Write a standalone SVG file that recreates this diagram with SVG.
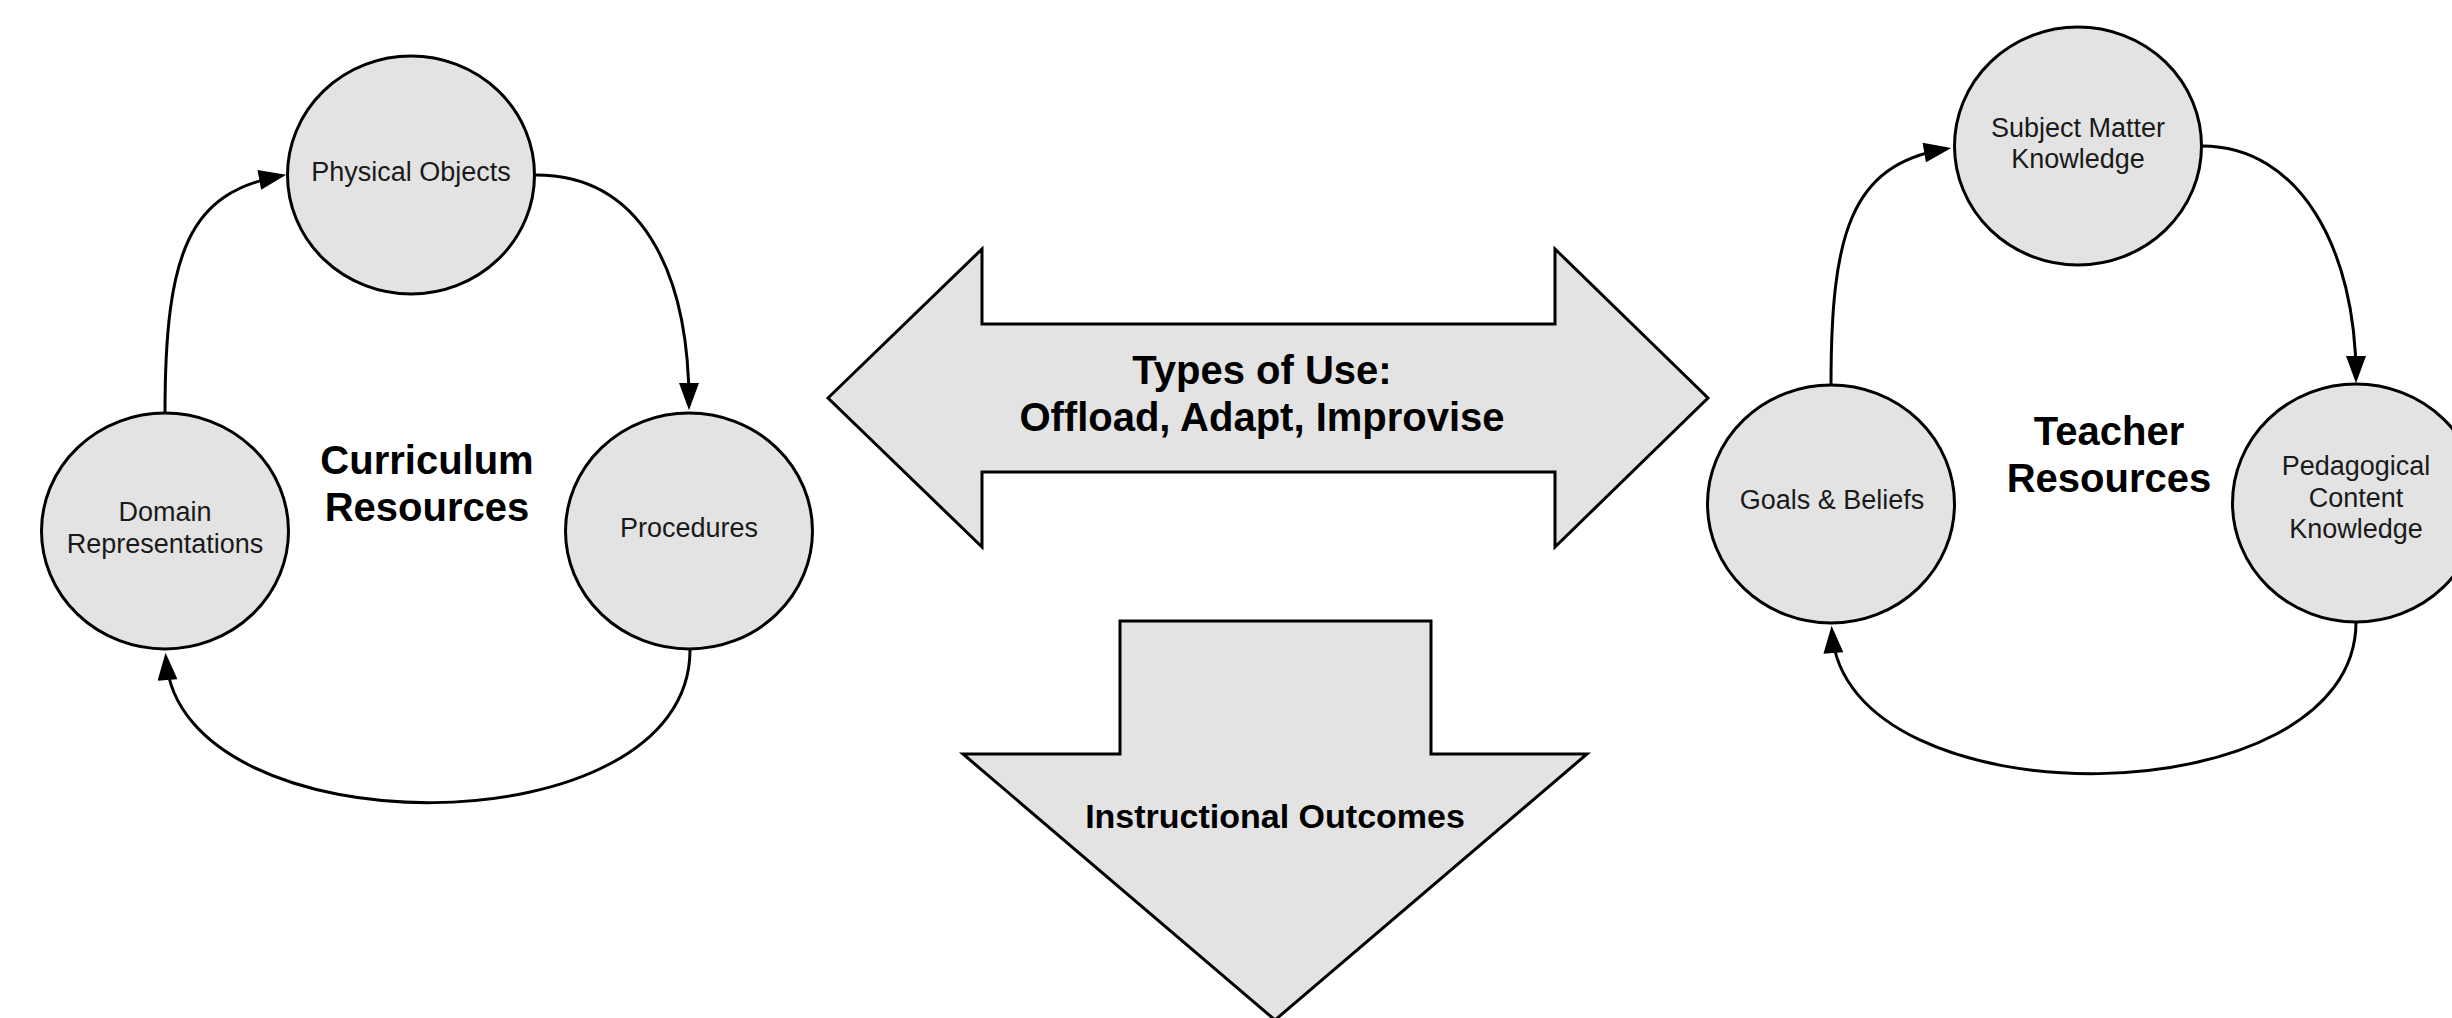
<svg xmlns="http://www.w3.org/2000/svg" width="2452" height="1018" viewBox="0 0 2452 1018">
<defs>
<style>
.node{fill:#e3e3e3;stroke:#000;stroke-width:3}
.shape{fill:#e3e3e3;stroke:#000;stroke-width:3;stroke-linejoin:miter}
.lbl{font-family:"Liberation Sans",Arial,sans-serif;font-size:27px;fill:#1a1a1a;text-anchor:middle}
.title{font-family:"Liberation Sans",Arial,sans-serif;font-size:40px;font-weight:bold;fill:#000;text-anchor:middle}
.big{font-family:"Liberation Sans",Arial,sans-serif;font-weight:bold;fill:#000;text-anchor:middle}
.conn{fill:none;stroke:#000;stroke-width:3}
</style>
<marker id="ah" markerUnits="userSpaceOnUse" markerWidth="28" markerHeight="20" viewBox="0 0 26 19" refX="20" refY="9.5" orient="auto">
<path d="M0,0 L26,9.5 L0,19 z" fill="#000"/>
</marker>
</defs>
<rect width="2452" height="1018" fill="#fff"/>

<g id="connectors">
<path class="conn" d="M165 413 C165 250 190 193 280 176" marker-end="url(#ah)"/>
<path class="conn" d="M536 175 C640 175 689 270 689 404" marker-end="url(#ah)"/>
<path class="conn" d="M690 650 C690 852 180 852 166 659" marker-end="url(#ah)"/>
<path class="conn" d="M1831 385 C1831 235 1850 165 1945 149" marker-end="url(#ah)"/>
<path class="conn" d="M2202 146 C2300 146 2356 250 2356 377" marker-end="url(#ah)"/>
<path class="conn" d="M2356 622 C2356 820 1845 825 1832 632" marker-end="url(#ah)"/>
</g>

<g id="node-physical-objects">
<ellipse class="node" cx="411" cy="175" rx="123.5" ry="119"/>
<text class="lbl" x="411" y="181">Physical Objects</text>
</g>
<g id="node-domain-representations">
<ellipse class="node" cx="165" cy="531" rx="123.5" ry="118"/>
<text class="lbl" x="165" y="521">Domain</text>
<text class="lbl" x="165" y="553">Representations</text>
</g>
<g id="node-procedures">
<ellipse class="node" cx="689" cy="531" rx="123.5" ry="118"/>
<text class="lbl" x="689" y="537">Procedures</text>
</g>
<g id="label-curriculum">
<text class="title" x="427" y="474">Curriculum</text>
<text class="title" x="427" y="521">Resources</text>
</g>

<g id="node-types-of-use">
<polygon class="shape" points="828,398 982,249 982,324 1555,324 1555,249 1708,398 1555,547 1555,472 982,472 982,547"/>
<text class="big" x="1262" y="384" font-size="40">Types of Use:</text>
<text class="big" x="1262" y="431" font-size="40">Offload, Adapt, Improvise</text>
</g>
<g id="node-instructional-outcomes">
<polygon class="shape" points="1120,621 1431,621 1431,754 1587,754 1275,1020 963,754 1120,754"/>
<text class="big" x="1275" y="828" font-size="34">Instructional Outcomes</text>
</g>

<g id="node-subject-matter">
<ellipse class="node" cx="2078" cy="146" rx="123.5" ry="119"/>
<text class="lbl" x="2078" y="137">Subject Matter</text>
<text class="lbl" x="2078" y="168">Knowledge</text>
</g>
<g id="node-goals-beliefs">
<ellipse class="node" cx="1831" cy="504" rx="123.5" ry="119"/>
<text class="lbl" x="1832" y="509">Goals &amp; Beliefs</text>
</g>
<g id="node-pck">
<ellipse class="node" cx="2356" cy="503" rx="123.5" ry="119"/>
<text class="lbl" x="2356" y="475">Pedagogical</text>
<text class="lbl" x="2356" y="507">Content</text>
<text class="lbl" x="2356" y="538">Knowledge</text>
</g>
<g id="label-teacher">
<text class="title" x="2109" y="445">Teacher</text>
<text class="title" x="2109" y="492">Resources</text>
</g>
</svg>
